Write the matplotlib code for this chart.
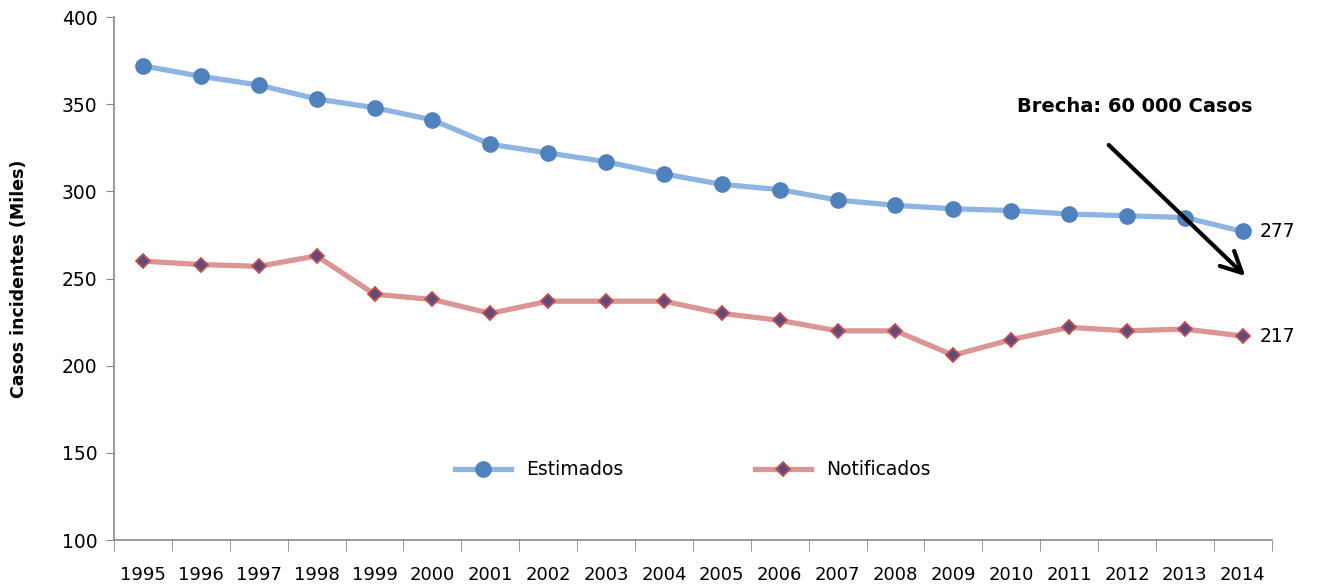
import matplotlib.pyplot as plt
import numpy as np

years = [str(y) for y in range(1995, 2015)]
estimados = [372, 366, 361, 353, 348, 341, 327, 322, 317, 310,
             304, 301, 295, 292, 290, 289, 287, 286, 285, 277]
notificados = [260, 258, 257, 263, 241, 238, 230, 237, 237, 237,
               230, 226, 220, 220, 206, 215, 222, 220, 221, 217]

plt.rcParams['font.family'] = ['DejaVu Sans']

fig = plt.figure(figsize=(13.2, 5.87), dpi=100)
ax = fig.add_axes([0.0864, 0.080, 0.877, 0.891])

x = np.arange(len(years))
ax.plot(x, estimados, '-', color='#8DB4E2', lw=3.8, marker='o', ms=11,
        mfc='#4F81BD', mec='#4F81BD', label='Estimados')
ax.plot(x, notificados, '-', color='#D99694', lw=3.8, marker='D', ms=7.5,
        mfc='#604A7B', mec='#C0504D', mew=1.3, label='Notificados')

ax.set_xlim(-0.5, len(years) - 0.5)
ax.set_ylim(100, 400)
ax.set_yticks(range(100, 401, 50))
ax.set_xticks(x)
ax.set_xticklabels(years)
ax.set_xticks(np.arange(-0.5, len(years), 1), minor=True)
ax.tick_params(axis='x', which='major', length=0, pad=19, labelsize=13)
ax.tick_params(axis='x', which='minor', length=8, color='#888888', direction='out')
ax.tick_params(axis='y', length=6, color='#888888', labelsize=13.5, pad=6)

for s in ['top', 'right']:
    ax.spines[s].set_visible(False)
for s in ['left', 'bottom']:
    ax.spines[s].set_color('#888888')
    ax.spines[s].set_linewidth(1.2)

ax.set_ylabel('Casos incidentes (Miles)', fontsize=12.5, fontweight='bold', labelpad=24)

ax.annotate('', xy=(19.08, 250.3), xytext=(16.65, 327.7),
            arrowprops=dict(arrowstyle='->,head_length=0.6,head_width=0.3',
                            color='black', lw=3, mutation_scale=25))
ax.text(17.13, 348.4, 'Brecha: 60 000 Casos', fontsize=14, fontweight='bold',
        ha='center', va='center')
ax.text(19.3, estimados[-1], str(estimados[-1]), fontsize=13.5, va='center')
ax.text(19.3, notificados[-1], str(notificados[-1]), fontsize=13.5, va='center')

ax.legend(loc='center', bbox_to_anchor=(0.5, 0.134), ncol=2, frameon=False,
          fontsize=13.5, columnspacing=7, handlelength=3)

fig.savefig('out.png', dpi=100)
